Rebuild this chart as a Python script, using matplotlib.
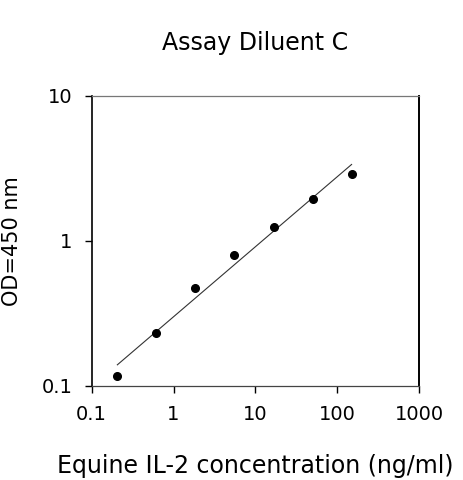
import numpy as np
import matplotlib
matplotlib.use('Agg')
import matplotlib.pyplot as plt

# standard curve data (3-fold dilutions)
conc = [0.206, 0.617, 1.85, 5.56, 16.7, 50.0, 150.0]
od = [0.117, 0.23, 0.472, 0.80, 1.24, 1.95, 2.86]

x_ticks = [0.1, 1, 10, 100, 1000]
x_ticklabels = ['0.1', '1', '10', '100', '1000']
y_ticks = [0.1, 1, 10]
y_ticklabels = ['0.1', '1', '10']

plt.rcParams['font.family'] = 'DejaVu Sans'

fig = plt.figure(figsize=(4.63, 4.8), dpi=100)
ax = fig.add_axes([0.198, 0.196, 0.707, 0.605])

# linear fit on log-log values
z = np.polyfit(np.log10(conc), np.log10(od), 1)
p = np.poly1d(z)
xf = np.array([conc[0], conc[-1]])
ax.plot(xf, 10 ** p(np.log10(xf)), '-', color='#333333', linewidth=0.8)

ax.plot(conc, od, 'o', color='black', markersize=5.5)

ax.set_xscale('log')
ax.set_yscale('log')
ax.set_xlim(0.1, 1000)
ax.set_ylim(0.1, 10)
ax.set_xticks(x_ticks)
ax.set_xticklabels(x_ticklabels)
ax.set_yticks(y_ticks)
ax.set_yticklabels(y_ticklabels)
ax.minorticks_off()
ax.tick_params(axis='both', labelsize=14, length=5, width=1, direction='out')
ax.tick_params(axis='x', pad=9)
ax.tick_params(axis='y', pad=9)

ax.spines['top'].set_color('#777777')
ax.spines['top'].set_linewidth(0.9)
ax.spines['bottom'].set_color('#444444')
ax.spines['bottom'].set_linewidth(0.9)
ax.spines['left'].set_linewidth(1.2)
ax.spines['right'].set_linewidth(1.4)

ax.set_title('Assay Diluent C', fontsize=17, pad=33)
ax.set_xlabel('Equine IL-2 concentration (ng/ml)', fontsize=17, labelpad=21)
ax.set_ylabel('OD=450 nm', fontsize=15, labelpad=14)

fig.savefig('out.png', dpi=100)
